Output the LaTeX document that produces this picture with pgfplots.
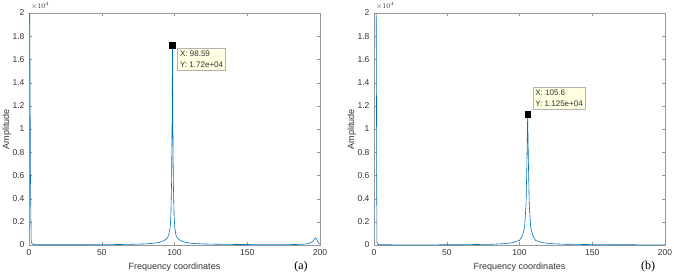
\documentclass[border=0pt]{standalone}
\usepackage{pgfplots}
\pgfplotsset{compat=1.18}
\usepackage{fontspec}
\setmainfont{Liberation Sans}
\newfontfamily\seriffont{Liberation Serif}
\definecolor{mblue}{RGB}{0,114,189}
\definecolor{tipbg}{RGB}{255,255,225}
\definecolor{axgray}{RGB}{150,150,150}
\definecolor{txtgray}{RGB}{50,50,50}
\pgfplotsset{myax/.style={
  width=291pt,height=232pt,scale only axis,anchor=south west,
  clip mode=individual,
  xmin=0,xmax=200,ymin=0,ymax=20000,
  xtick={0,50,...,200},
  ytick={0,2000,4000,6000,8000,10000,12000,14000,16000,18000,20000},
  yticklabels={0,0.2,0.4,0.6,0.8,1,1.2,1.4,1.6,1.8,2},
  scaled y ticks=false,scaled x ticks=false,
  tick align=inside,major tick length=3pt,
  axis line style={axgray},tick style={axgray},
  ticklabel style={font=\fontsize{8.5}{10}\selectfont,text=txtgray},
  /pgf/number format/assume math mode=true,
  xticklabel style={yshift=-1pt},
  yticklabel style={xshift=-1pt},
  xlabel={Frequency coordinates},ylabel={Amplitude},
  label style={font=\fontsize{9}{10}\selectfont,text=txtgray},
  xlabel style={at={(axis description cs:0.5,-0.095)},anchor=center},
  ylabel style={at={(axis description cs:-0.076,0.5)},anchor=center},
  every axis plot/.append style={line width=0.6pt},
}}
\begin{document}
\begin{tikzpicture}
\path[use as bounding box] (0pt,0pt) rectangle (674pt,276pt);
% (a)
\begin{axis}[myax,at={(29pt,31pt)}]
\addplot[mblue] coordinates {
(0,21000)(0.5,20500)(1,6000)(1.5,400)(2,120)(3,50)(5,25)(10,18)(20,18)(30,20)(40,25)(50,30)(60,40)(70,60)(80,95)(85,140)(90,240)(93,390)(95,600)(96,850)(97,1500)(97.5,2500)(98,5500)(98.3,10000)(98.59,17200)(98.9,10000)(99.2,5500)(99.7,2500)(100.2,1500)(101,850)(102,600)(104,390)(107,240)(112,140)(120,90)(130,62)(140,48)(150,40)(160,34)(170,32)(180,35)(188,60)(192,120)(194,220)(195.5,400)(196.5,560)(197,600)(197.8,480)(198.6,250)(199.3,120)(200,80)
};
\addplot[only marks,mark=square*,mark size=2.8pt,black] coordinates {(98.59,17200)};
\node[anchor=north west,fill=tipbg,draw=gray!60,line width=0.4pt,inner sep=2.5pt,align=left,font=\fontsize{8}{11}\selectfont,text=txtgray] at ([xshift=5pt,yshift=-3pt]axis cs:98.59,17200) {X: 98.59\\Y: 1.72e+04};
\node[anchor=south west,inner sep=0pt,font=\fontsize{7}{8}\selectfont,text=txtgray] at ([xshift=2pt,yshift=3pt]rel axis cs:0,1) {$\times10^{4}$};
\end{axis}
% (b)
\begin{axis}[myax,at={(374pt,31pt)}]
\addplot[mblue] coordinates {
(0,21000)(1,20500)(1.5,20000)(2,300)(2.5,80)(3,45)(5,22)(20,12)(40,15)(60,25)(80,60)(90,120)(95,200)(100,400)(102,800)(103.5,1500)(104.5,3500)(105,6500)(105.6,11250)(106.2,6500)(106.7,3500)(107.7,1500)(109.2,800)(111,400)(116,200)(121,120)(130,70)(150,35)(170,20)(190,15)(200,10)
};
\addplot[only marks,mark=square*,mark size=2.8pt,black] coordinates {(105.6,11250)};
\node[anchor=south west,fill=tipbg,draw=gray!60,line width=0.4pt,inner sep=2.5pt,align=left,font=\fontsize{8}{11}\selectfont,text=txtgray] at ([xshift=5pt,yshift=5pt]axis cs:105.6,11250) {X: 105.6\\Y: 1.125e+04};
\node[anchor=south west,inner sep=0pt,font=\fontsize{7}{8}\selectfont,text=txtgray] at ([xshift=2pt,yshift=3pt]rel axis cs:0,1) {$\times10^{4}$};
\end{axis}
\node[font=\seriffont\fontsize{12}{14}\selectfont] at (301pt,9pt) {(a)};
\node[font=\seriffont\fontsize{12}{14}\selectfont] at (648pt,9pt) {(b)};
\end{tikzpicture}
\end{document}
